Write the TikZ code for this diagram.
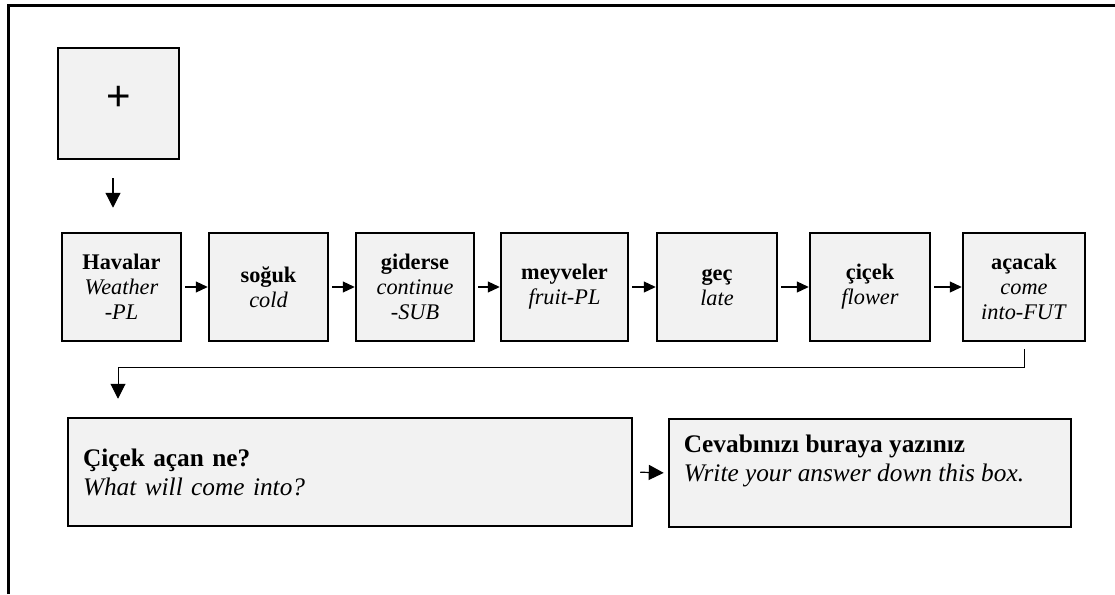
\documentclass[tikz,border=0pt]{standalone}
\usepackage{fontspec}
\setmainfont{Liberation Serif}
\newfontfamily\plusfont{Liberation Sans}
\usetikzlibrary{arrows.meta}
\definecolor{boxgray}{HTML}{F2F2F2}
\tikzset{
	wordbox/.style={draw, line width=2.5pt, fill=boxgray, minimum width=120pt, minimum height=108pt, inner sep=0pt, align=center, font=\fontsize{22.3}{25}\selectfont},
	longbox/.style={draw, line width=2.5pt, fill=boxgray, minimum height=108pt, inner ysep=0pt, inner xsep=15pt, align=left, font=\fontsize{25.3}{29}\selectfont},
	arr/.style={line width=1.2pt, -{Triangle[length=12pt,width=11pt]}},
	bigarr/.style={line width=1.2pt, -{Triangle[length=15pt,width=15pt]}},
}

\begin{document}
\begin{tikzpicture}[x=1pt,y=-1pt]
		%%%%% START %%%%%
		\useasboundingbox (0,0) rectangle (1115,594);
		
		\draw[line width=3pt] (8,594) -- (8,5.5) -- (1115,5.5);
		
		\node[wordbox, minimum width=121pt, minimum height=111pt, font=\plusfont\fontsize{42}{42}\selectfont] (plus) at (118.5,103.5) {\raisebox{11pt}{+}};
		
		\node[wordbox, minimum width=119pt] (hav) at (121.5,287) {\textbf{Havalar}\\\textit{Weather}\\\textit{-PL}};
		\node[wordbox, minimum width=119pt] (sog) at (268.5,287) {\textbf{soğuk}\\\textit{cold}};
		\node[wordbox, minimum width=118pt] (gid) at (415,287) {\textbf{giderse}\\\textit{continue}\\\textit{-SUB}};
		\node[wordbox, minimum width=127pt] (mey) at (564.5,287) {\textbf{meyveler}\\\textit{fruit-PL}};
		\node[wordbox] (gec) at (717,287) {\textbf{geç}\\\textit{late}};
		\node[wordbox] (cic) at (870,287) {\textbf{çiçek}\\\textit{flower}};
		\node[wordbox, minimum width=122pt] (aca) at (1024,287) {\textbf{açacak}\\\textit{come}\\\textit{into-FUT}};
		
		\draw[bigarr, shorten <=18pt, shorten >=24pt] ([xshift=-5.5pt]plus.south) -- ([xshift=-5.5pt]plus.south |- hav.north);
		
		\draw[arr, shorten <=3pt] (hav.east) -- (sog.west);
		\draw[arr, shorten <=3pt] (sog.east) -- (gid.west);
		\draw[arr, shorten <=3pt] (gid.east) -- (mey.west);
		\draw[arr, shorten <=3pt] (mey.east) -- (gec.west);
		\draw[arr, shorten <=3pt] (gec.east) -- (cic.west);
		\draw[arr, shorten <=3pt] (cic.east) -- (aca.west);
		
		\node[longbox, text width=534pt] (ques) at (350,472) {\textbf{Çiçek açan ne?}\\\textit{What will come into?}};
		\node[longbox, minimum width=402pt,
			label={[anchor=north west, xshift=16pt, yshift=-17pt, inner sep=0pt, align=left, font=\fontsize{25.3}{29}\selectfont]north west:{\textbf{Cevabınızı buraya yazınız}\\\textit{Write your answer down this box.}}}] (ans) at (870,473) {};
		
		\coordinate (bend) at (118,367);
		\draw[bigarr, line width=1pt, shorten <=7pt, shorten >=18pt] (aca.south) |- (bend) -- (bend |- ques.north);
		
		\draw[bigarr, shorten <=7pt, shorten >=4pt] (ques.east) -- (ans.west);
		
		%%%%% END %%%%%
\end{tikzpicture}
\end{document}
